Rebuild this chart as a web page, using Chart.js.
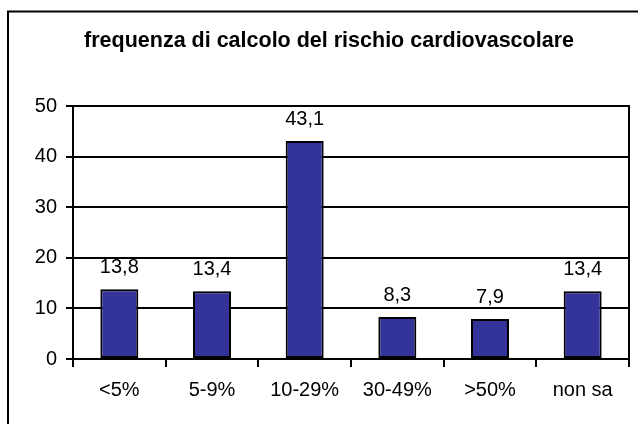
<!DOCTYPE html>
<html>
<head>
<meta charset="utf-8">
<script src="https://cdn.jsdelivr.net/npm/chart.js@4.4.1/dist/chart.umd.min.js"></script>
<style>
  html, body { margin: 0; padding: 0; background: #fff; }
  #wrap { width: 638px; height: 424px; }
</style>
</head>
<body>
<div id="wrap"><canvas id="c" width="638" height="424"></canvas></div>
<script>
const categories = ['<5%', '5-9%', '10-29%', '30-49%', '>50%', 'non sa'];
const values = [13.8, 13.4, 43.1, 8.3, 7.9, 13.4];
const titleText = 'frequenza di calcolo del rischio cardiovascolare';
const yMin = 0, yMax = 50, yStep = 10;

const FONT = '"Liberation Sans", Arial, sans-serif';

const framePlugin = {
  id: 'frame',
  beforeDraw(chart) {
    const ctx = chart.ctx;
    ctx.save();
    ctx.fillStyle = '#fff';
    ctx.fillRect(0, 0, chart.width, chart.height);
    ctx.strokeStyle = '#000';
    ctx.lineWidth = 2;
    ctx.strokeRect(8, 11.5, 700, 500);
    ctx.restore();
  },
  afterDatasetsDraw(chart) {
    const ctx = chart.ctx;
    const a = chart.chartArea;
    ctx.save();
    ctx.strokeStyle = '#000';
    ctx.lineWidth = 2;
    ctx.beginPath();
    ctx.moveTo(a.right, a.top - 1);
    ctx.lineTo(a.right, a.bottom);
    ctx.stroke();
    // value labels
    ctx.fillStyle = '#000';
    ctx.font = '20px ' + FONT;
    ctx.textAlign = 'center';
    ctx.textBaseline = 'alphabetic';
    const meta = chart.getDatasetMeta(0);
    meta.data.forEach((bar, i) => {
      const v = chart.data.datasets[0].data[i];
      ctx.fillText(String(v).replace('.', ','), bar.x, bar.y - 16);
    });
    ctx.restore();
  }
};

new Chart(document.getElementById('c'), {
  type: 'bar',
  data: {
    labels: categories,
    datasets: [{
      data: values,
      backgroundColor: '#333399',
      borderColor: '#000',
      borderWidth: 2,
      borderSkipped: false,
      categoryPercentage: 1,
      barPercentage: 0.41
    }]
  },
  options: {
    responsive: false,
    animation: false,
    devicePixelRatio: 1,
    layout: { padding: { left: 29, right: 9, top: 0, bottom: 0 } },
    plugins: {
      legend: { display: false },
      tooltip: { enabled: false },
      title: {
        display: true,
        text: titleText,
        color: '#000',
        font: { family: FONT, size: 21.5, weight: 'bold', lineHeight: 1.2 },
        padding: { top: 28, bottom: 52.2 }
      }
    },
    scales: {
      x: {
        afterFit(s) { s.height = 65; },
        grid: { display: true, drawOnChartArea: false, drawTicks: true, tickLength: 8, color: '#000', lineWidth: 2, offset: true },
        border: { display: true, color: '#000', width: 2 },
        ticks: { color: '#000', font: { family: FONT, size: 20 }, padding: 11, maxRotation: 0, autoSkip: false }
      },
      y: {
        min: yMin, max: yMax,
        afterFit(s) { s.width = 44; },
        grid: { color: '#000', lineWidth: 2, drawTicks: true, tickLength: 7 },
        border: { display: true, color: '#000', width: 2 },
        ticks: { stepSize: yStep, color: '#000', font: { family: FONT, size: 20 }, padding: 9 }
      }
    }
  },
  plugins: [framePlugin]
});
</script>
</body>
</html>
